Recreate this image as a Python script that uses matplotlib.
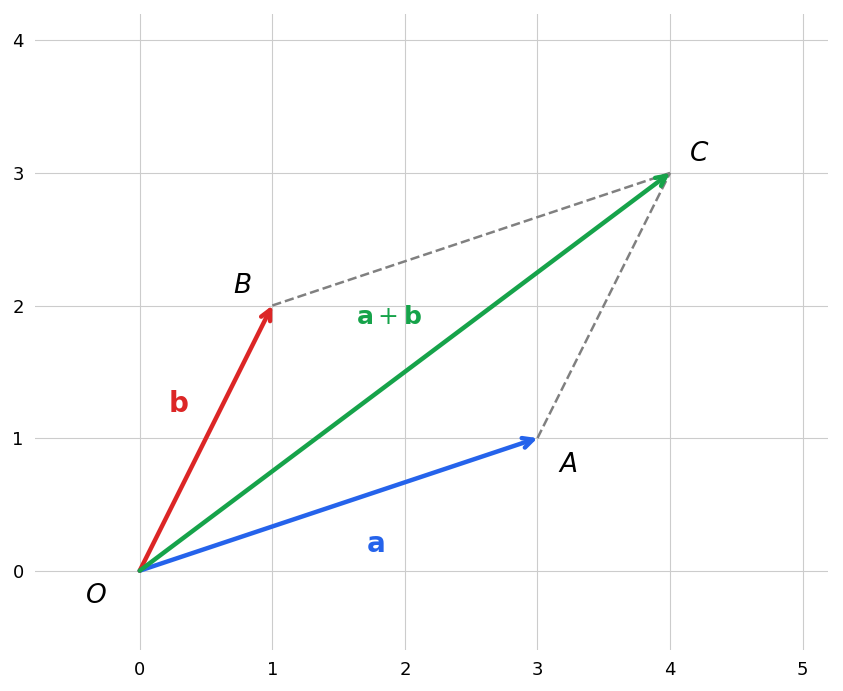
import matplotlib.pyplot as plt

# vectors
vec_a = (3, 1)
vec_b = (1, 2)
vec_sum = (4, 3)

points = ["O", "A", "B", "C"]
point_xy = [(0, 0), (3, 1), (1, 2), (4, 3)]
label_xy = [(-0.33, -0.19), (3.23, 0.8), (0.77, 2.15), (4.22, 3.14)]

fig = plt.figure(figsize=(8.43, 6.91), dpi=100)
ax = fig.add_axes([0.0415, 0.059, 0.9405, 0.921])

# parallelogram dashed sides
ax.plot([vec_b[0], vec_sum[0]], [vec_b[1], vec_sum[1]], "--", color="gray", lw=1.8)
ax.plot([vec_a[0], vec_sum[0]], [vec_a[1], vec_sum[1]], "--", color="gray", lw=1.8)

for v, c in [(vec_a, "#2563eb"), (vec_b, "#dc2626"), (vec_sum, "#16a34a")]:
    ax.annotate("", xy=v, xytext=(0, 0),
                arrowprops=dict(arrowstyle="->", color=c, lw=3.2, mutation_scale=18,
                                shrinkA=0, shrinkB=0))

ax.text(1.78, 0.2, r"$\mathbf{a}$", color="#2563eb", fontsize=20, ha="center", va="center")
ax.text(0.29, 1.26, r"$\mathbf{b}$", color="#dc2626", fontsize=20, ha="center", va="center")
ax.text(1.88, 1.91, r"$\mathbf{a}+\mathbf{b}$", color="#16a34a", fontsize=18, ha="center", va="center")

for name, (x, y) in zip(points, label_xy):
    ax.text(x, y, f"${name}$", fontsize=19, ha="center", va="center")

ax.set_xlim(-0.79, 5.19)
ax.set_ylim(-0.6, 4.2)
ax.set_xticks(range(0, 6))
ax.set_yticks(range(0, 5))
ax.tick_params(length=0, labelsize=13, pad=8)
ax.grid(color="#cccccc", lw=0.8)
ax.set_axisbelow(True)
for s in ax.spines.values():
    s.set_visible(False)

plt.savefig("out.png", dpi=100)
